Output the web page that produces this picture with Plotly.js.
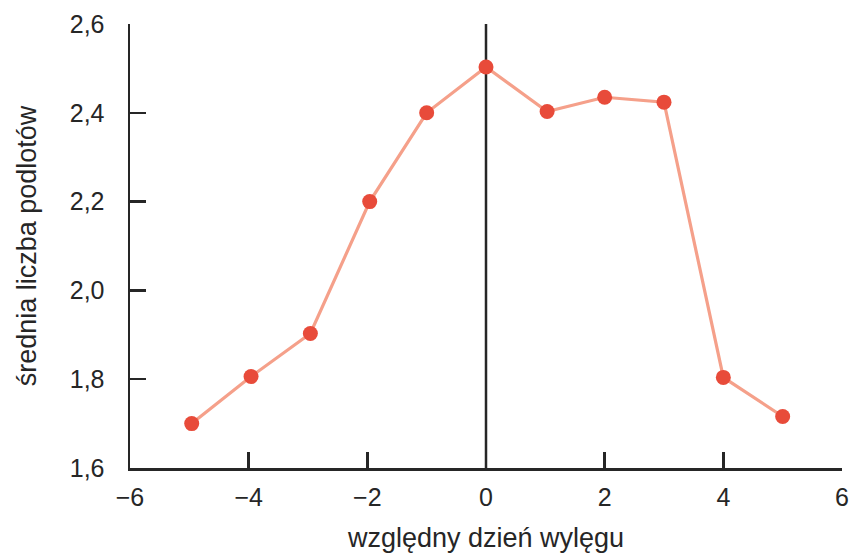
<!DOCTYPE html>
<html>
<head>
<meta charset="utf-8">
<script src="https://cdn.plot.ly/plotly-3.0.1.min.js"></script>
<style>html,body{margin:0;padding:0;background:#fff;}#chart{width:850px;height:559px;}</style>
</head>
<body>
<div id="chart"></div>
<script>
const days = [-4.96, -3.96, -2.96, -1.96, -1.0, 0, 1.03, 2.0, 3.0, 4.0, 5.0];
const meanFledglings = [1.70, 1.806, 1.903, 2.20, 2.40, 2.503, 2.403, 2.435, 2.424, 1.804, 1.716];
const xTicks = [-6, -4, -2, 0, 2, 4, 6];
const yTicks = [1.6, 1.8, 2.0, 2.2, 2.4, 2.6];
const xTitle = 'względny dzień wylęgu';
const yTitle = 'średnia liczba podlotów';

const axisColor = '#262626';
const font = {family: 'Liberation Sans, Arial, sans-serif', size: 25, color: '#262626'};

const trace = {
  x: days, y: meanFledglings, type: 'scatter', mode: 'lines+markers',
  line: {color: '#F5A08A', width: 3.2},
  marker: {color: '#E84B3A', size: 15},
  cliponaxis: false, hoverinfo: 'x+y'
};

const layout = {
  width: 850, height: 559,
  margin: {l: 130, r: 8, t: 24, b: 91},
  paper_bgcolor: '#fff', plot_bgcolor: '#fff',
  separators: ', ',
  font: font,
  showlegend: false,
  xaxis: {
    range: [-6, 6], tickvals: xTicks, ticks: 'inside', ticklen: 16, tickwidth: 2.5,
    tickcolor: axisColor, showline: true, linecolor: axisColor, linewidth: 2.5,
    showgrid: false, zeroline: false, tickfont: {size: 25}, ticklabelstandoff: 5,
    title: {text: xTitle, font: {size: 27}, standoff: 19}
  },
  yaxis: {
    range: [1.6, 2.6], tickvals: yTicks, tickformat: '.1f', ticks: 'inside', ticklen: 16, tickwidth: 2.5,
    tickcolor: axisColor, showline: true, linecolor: axisColor, linewidth: 2.5,
    showgrid: false, zeroline: false, tickfont: {size: 25}, ticklabelstandoff: 18,
    title: {text: yTitle, font: {size: 27}, standoff: 26}
  },
  shapes: [{
    type: 'line', xref: 'x', yref: 'y', x0: 0, x1: 0, y0: 1.6, y1: 2.6,
    line: {color: axisColor, width: 2.5}, layer: 'below'
  }]
};

Plotly.newPlot('chart', [trace], layout, {displayModeBar: false, staticPlot: true});
</script>
</body>
</html>
